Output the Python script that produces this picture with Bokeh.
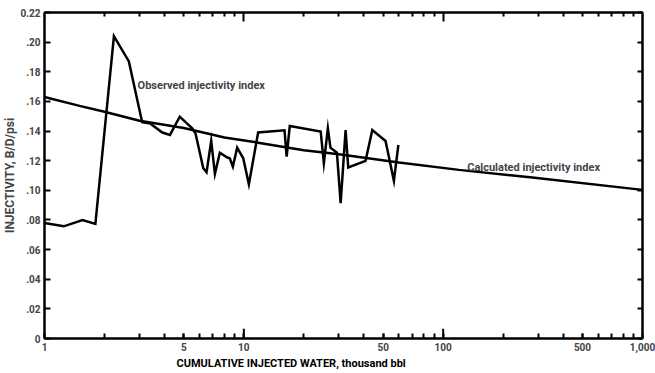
from bokeh.plotting import figure
from bokeh.models import LogAxis, LinearAxis, FixedTicker, Range1d, Label, Title
from bokeh.embed import file_html
from bokeh.resources import INLINE

# Observed injectivity index
obs_x = [1.0, 1.25, 1.55, 1.80, 2.23, 2.65, 3.09, 3.40, 3.90, 4.26, 4.77, 5.51, 5.72,
         6.26, 6.50, 6.86, 7.16, 7.58, 8.26, 8.50, 8.81, 9.26, 9.93, 10.6, 11.8, 16.0,
         16.4, 17.0, 24.3, 25.2, 26.4, 27.2, 29.3, 30.6, 32.4, 33.4, 40.8, 44.1, 51.4,
         56.6, 59.6]
obs_y = [0.078, 0.0757, 0.080, 0.0773, 0.204, 0.187, 0.146, 0.145, 0.139, 0.1374, 0.1497,
         0.1418, 0.1385, 0.1149, 0.1122, 0.1333, 0.1111, 0.1254, 0.1221, 0.1216, 0.116,
         0.1288, 0.1216, 0.1041, 0.1391, 0.1405, 0.1228, 0.1434, 0.1396, 0.1183, 0.1418,
         0.1288, 0.1254, 0.0914, 0.1407, 0.1154, 0.1199, 0.1407, 0.1333, 0.1064, 0.1306]

# Calculated injectivity index
calc_x = [1, 1.5, 2, 3, 5, 8, 12, 20, 30, 60, 120, 280, 1000]
calc_y = [0.163, 0.157, 0.153, 0.147, 0.142, 0.1356, 0.132, 0.127, 0.1243, 0.1187,
          0.1138, 0.1086, 0.1003]

x_ticks = [1, 5, 10, 50, 100, 500, 1000]
x_tick_labels = ["1", "5", "10", "50", "100", "500", "1,000"]
x_minor = [2, 3, 4, 5, 6, 7, 8, 9, 20, 30, 40, 50, 60, 70, 80, 90,
           200, 300, 400, 500, 600, 700, 800, 900]
x_long = [10, 100]
y_ticks = [0, 0.02, 0.04, 0.06, 0.08, 0.10, 0.12, 0.14, 0.16, 0.18, 0.20, 0.22]
y_tick_labels = ["0", ".02", ".04", ".06", ".08", ".10", ".12", ".14", ".16", ".18", ".20", "0.22"]

FONT = "Roboto"

p = figure(width=655, height=373, x_axis_type="log",
           x_range=Range1d(1, 1000), y_range=Range1d(0, 0.22),
           output_backend="svg", toolbar_location=None,
           min_border_left=44, min_border_right=13, min_border_top=12, min_border_bottom=35)
p.background_fill_color = "white"
p.border_fill_color = "white"
p.outline_line_color = "black"
p.outline_line_width = 2
p.xgrid.visible = False
p.ygrid.visible = False

xa = p.xaxis[0]
xa.ticker = FixedTicker(ticks=x_ticks, minor_ticks=x_minor)
xa.major_label_overrides = dict(zip(x_ticks, x_tick_labels))
xa.major_tick_in = 5
xa.major_tick_out = 0
xa.minor_tick_in = 5
xa.minor_tick_out = 0
xa.axis_line_width = 2
xa.major_tick_line_width = 2
xa.minor_tick_line_width = 2
xa.major_label_text_font = FONT
xa.major_label_text_font_style = "bold"
xa.major_label_text_font_size = "10px"
xa.major_label_standoff = 4

ya = p.yaxis[0]
ya.ticker = FixedTicker(ticks=y_ticks)
ya.major_label_overrides = dict(zip(y_ticks, y_tick_labels))
ya.major_tick_in = 6
ya.major_tick_out = 0
ya.minor_tick_line_color = None
ya.axis_line_width = 2
ya.major_tick_line_width = 2
ya.major_label_text_font = FONT
ya.major_label_text_font_style = "bold"
ya.major_label_text_font_size = "10px"
ya.major_label_standoff = 4
ya.axis_label = "INJECTIVITY, B/D/psi"
ya.axis_label_text_font = FONT
ya.axis_label_text_font_style = "bold"
ya.axis_label_text_font_size = "12px"
ya.axis_label_standoff = 0

top = LogAxis(ticker=FixedTicker(ticks=x_long, minor_ticks=x_minor))
top.major_tick_in = 9
top.major_tick_out = 0
top.minor_tick_in = 4
top.minor_tick_out = 0
top.major_tick_line_width = 2
top.minor_tick_line_width = 2
top.axis_line_width = 2
top.major_label_text_font_size = "1px"
top.major_label_text_color = None
top.major_label_standoff = 0
p.add_layout(top, "above")

right = LinearAxis(ticker=FixedTicker(ticks=y_ticks))
right.major_tick_in = 5
right.major_tick_out = 0
right.minor_tick_line_color = None
right.major_tick_line_width = 2
right.axis_line_width = 2
right.major_label_text_font_size = "1px"
right.major_label_text_color = None
right.major_label_standoff = 0
p.add_layout(right, "right")

title = Title(text="CUMULATIVE INJECTED WATER, thousand bbl", align="left", offset=132,
              text_font=FONT, text_font_style="bold", text_font_size="11px",
              text_color="black", standoff=2)
p.add_layout(title, "below")

# longer ticks at 10 and 100 on the bottom axis
p.segment(x0=x_long, x1=x_long, y0=[0, 0], y1=[0.0065, 0.0065], line_color="black", line_width=2)

p.line(calc_x, calc_y, line_color="black", line_width=2.5)
p.line(obs_x, obs_y, line_color="black", line_width=2.5, line_join="miter")

p.add_layout(Label(x=2.93, y=0.171, text="Observed injectivity index", text_font=FONT,
                   text_font_style="bold", text_font_size="11px", text_baseline="middle"))
p.add_layout(Label(x=132, y=0.1155, text="Calculated injectivity index", text_font=FONT,
                   text_font_style="bold", text_font_size="11px", text_baseline="middle"))

open("out.html", "w").write(file_html(p, INLINE))
